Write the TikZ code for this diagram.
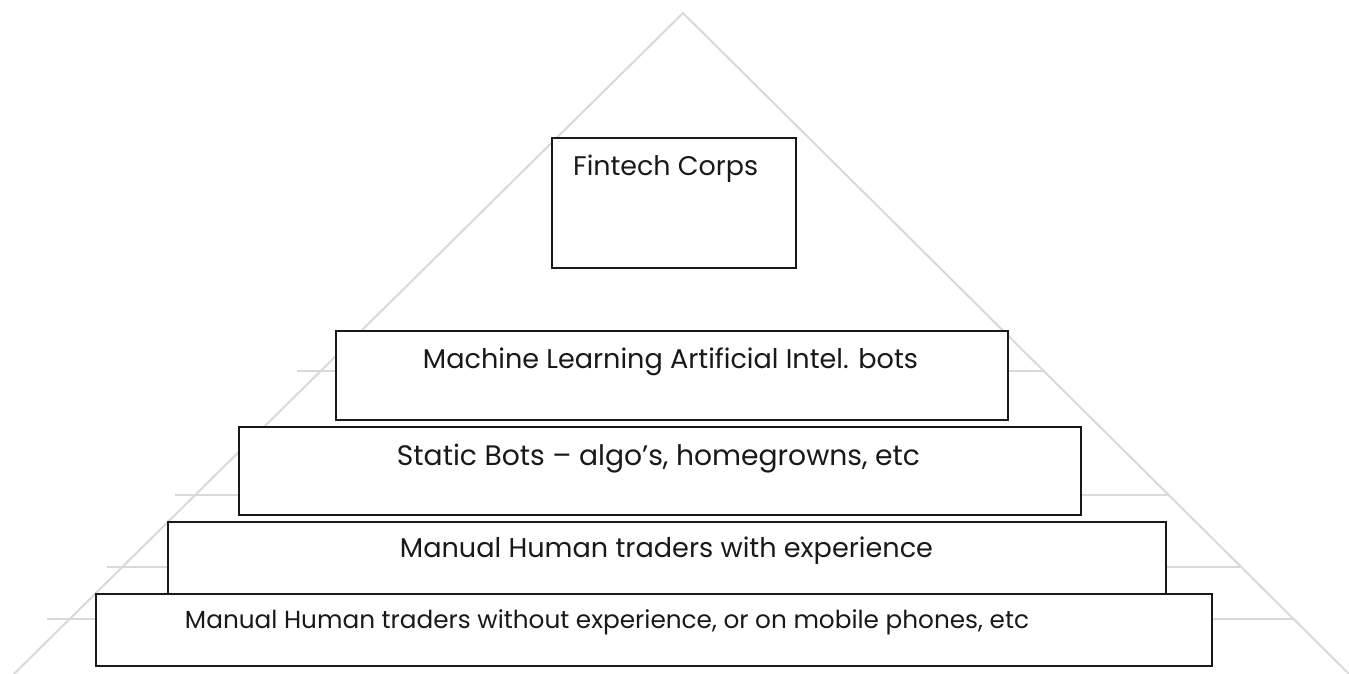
\documentclass[tikz,border=0pt]{standalone}
\usepackage{fontspec}
\setmainfont{Poppins}
\usepackage{graphicx}
\definecolor{trigray}{RGB}{217,217,217}
\definecolor{ink}{RGB}{25,25,25}
\begin{document}
\begin{tikzpicture}[x=1pt,y=-1pt,
  box/.style={draw=ink, line width=1.4pt, fill=white, inner sep=0pt},
  tri/.style={draw=trigray, line width=2pt},
  lbl/.style={inner sep=0pt, anchor=base, text=ink}]
\useasboundingbox (0,0) rectangle (1349,674);
% pyramid outline
\coordinate (apex) at (683,13);
\coordinate (bl) at (14,674);
\coordinate (br) at (1349,674);
\draw[tri] (bl) -- (apex) -- (br);
% level lines
\coordinate (l1a) at (297,371); \coordinate (l1b) at (1045,371);
\coordinate (l2a) at (175,495); \coordinate (l2b) at (1167,495);
\coordinate (l3a) at (107,567); \coordinate (l3b) at (1240,567);
\coordinate (l4a) at (47,619);  \coordinate (l4b) at (1293,619);
\draw[tri] (l1a) -- (l1b);
\draw[tri] (l2a) -- (l2b);
\draw[tri] (l3a) -- (l3b);
\draw[tri] (l4a) -- (l4b);
% boxes
\node[box, minimum width=244pt, minimum height=130pt] (fin) at (674,203) {};
\node[box, minimum width=672pt, minimum height=89pt] (ml) at (672,375.5) {};
\node[box, minimum width=842pt, minimum height=88pt] (sb) at (660,471) {};
\node[box, minimum width=998pt, minimum height=72pt] (mh) at (667,558) {};
\node[box, minimum width=1116pt, minimum height=72pt] (mn) at (654,630) {};
% labels
\node[inner sep=0pt, anchor=base west, text=ink] (finT) at (573,175) {\resizebox{185pt}{!}{Fintech Corps}};
\node[lbl] (mlT) at (670.5,368) {\resizebox{495pt}{!}{Machine Learning Artificial Intel. bots}};
\node[lbl] (sbT) at (658.5,465) {\resizebox{523pt}{!}{Static Bots – algo’s, homegrowns, etc}};
\node[lbl] (mhT) at (666.5,557) {\resizebox{533pt}{!}{Manual Human traders with experience}};
\node[lbl] (mnT) at (607,628) {\resizebox{844pt}{!}{Manual Human traders without experience, or on mobile phones, etc}};
\end{tikzpicture}
\end{document}
